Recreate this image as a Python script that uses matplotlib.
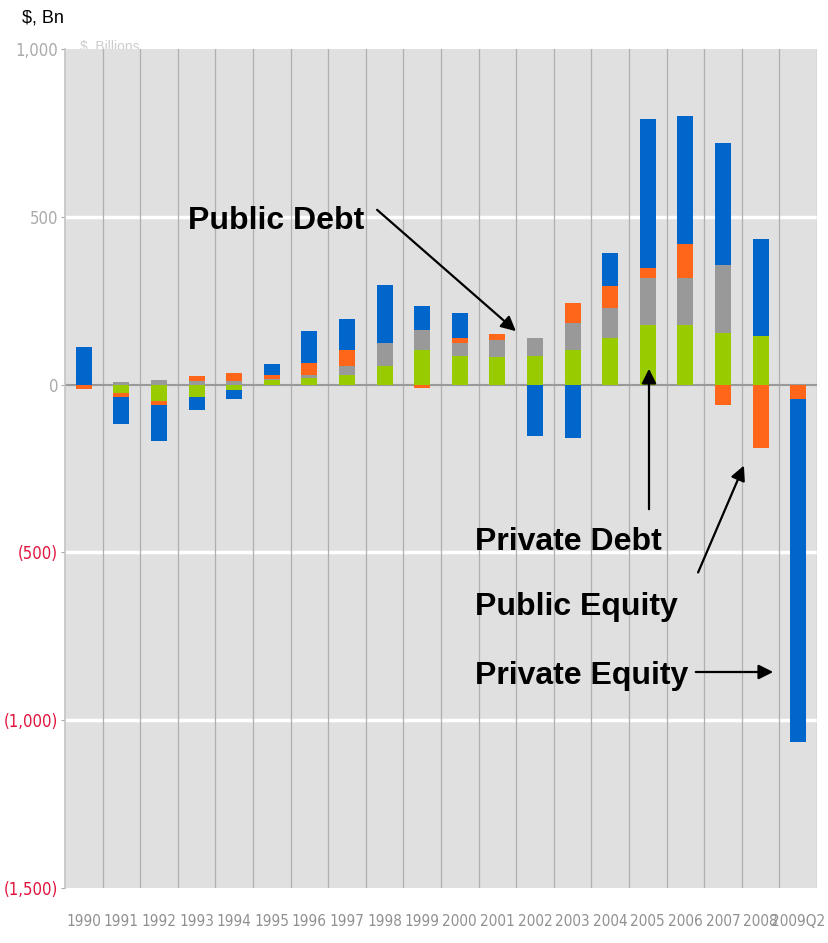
import matplotlib
matplotlib.use('Agg')
import matplotlib.pyplot as plt
import numpy as np

years = ['1990', '1991', '1992', '1993', '1994', '1995', '1996', '1997', '1998', '1999',
         '2000', '2001', '2002', '2003', '2004', '2005', '2006', '2007', '2008', '2009Q2']

# $ Bn flows per year, by asset class
private_debt   = [0, -25, -50, -37, -15, 15, 20, 30, 54, 104, 86, 82, 86, 104, 139, 178, 178, 155, 146, 0]
public_debt    = [0, 7, 15, 10, 10, 3, 10, 25, 70, 59, 38, 51, 52, 81, 89, 139, 139, 201, 0, 0]
public_equity  = [-12, -12, -10, 15, 25, 12, 35, 48, 0, -10, 15, 18, 0, 58, 67, 30, 102, -62, -188, -42]
private_equity = [113, -79, -109, -40, -27, 30, 94, 93, 173, 71, 74, 0, -154, -158, 96, 443, 380, 364, 289, -1024]

series = [private_debt, public_debt, public_equity, private_equity]
colors = ['#99cc00', '#999999', '#ff6619', '#0066cc']

yticks = [1000, 500, 0, -500, -1000, -1500]
ylabels = ['1,000', '500', '0', '(500)', '(1,000)', '(1,500)']

plt.rcParams['font.family'] = ['Liberation Sans', 'DejaVu Sans']

fig = plt.figure(figsize=(8.29, 9.43), dpi=100)
ax = fig.add_axes([65/829, 1 - 888/943, 752/829, 839/943])
ax.set_facecolor('#e0e0e0')

x = np.arange(len(years))
pos_base = np.zeros(len(years))
neg_base = np.zeros(len(years))
for vals, c in zip(series, colors):
    v = np.array(vals, dtype=float)
    base = np.where(v >= 0, pos_base, neg_base)
    ax.bar(x, v, bottom=base, width=0.43, color=c, zorder=3)
    pos_base += np.clip(v, 0, None)
    neg_base += np.clip(v, None, 0)

ax.set_xlim(-0.5, len(years) - 0.5)
ax.set_ylim(-1500, 1000)

# white grid at the +/-500 steps, grey line at zero, dividers between years
for g in [500, -500, -1000]:
    ax.axhline(g, color='white', lw=2.5, zorder=1)
ax.axhline(0, color='#999999', lw=1.5, zorder=2)
for b in np.arange(0.5, len(years), 1):
    ax.axvline(b, color='#b0b0b0', lw=0.9, zorder=1)

for s in ['top', 'right', 'bottom']:
    ax.spines[s].set_visible(False)
ax.spines['left'].set_color('#c4c4c4')
ax.spines['left'].set_linewidth(1.2)

ax.set_yticks(yticks)
ax.set_yticklabels(ylabels, family='DejaVu Sans', fontstretch='condensed', fontsize=12)
for lab, val in zip(ax.get_yticklabels(), yticks):
    lab.set_color('#aaaaaa' if val >= 0 else '#e0143c')
ax.tick_params(axis='y', length=3, color='#aaaaaa', pad=2)

ax.set_xticks(x)
ax.set_xticklabels(years, family='DejaVu Sans', fontstretch='condensed', fontsize=11,
                   color='#909090')
ax.tick_params(axis='x', length=0, pad=19)

fig.text(22/829, 1 - 18/943, '$, Bn', fontsize=13, va='center', ha='left')
# axis caption that sits mostly behind the plot area
fig.text(80/829, 1 - 47/943, '$, Billions', fontsize=10, color='#cccccc',
         va='center', ha='left', zorder=-1)

label_kw = dict(fontsize=23, fontweight='bold', color='black', va='center', ha='left')
arrow_kw = dict(arrowstyle='-|>', color='black', lw=1.6, mutation_scale=22)

def px(xp, yp):
    return (xp / 829, 1 - yp / 943)

fig.text(*px(188, 221), 'Public Debt', **label_kw)
fig.text(*px(475, 542), 'Private Debt', **label_kw)
fig.text(*px(475, 607), 'Public Equity', **label_kw)
fig.text(*px(475, 676), 'Private Equity', **label_kw)

for start, end in [((375, 208), (518, 333)),
                   ((649, 512), (649, 366)),
                   ((697, 575), (745, 463)),
                   ((693, 672), (776, 672))]:
    ax.annotate('', xy=px(*end), xytext=px(*start), xycoords='figure fraction',
                textcoords='figure fraction', arrowprops=arrow_kw, annotation_clip=False)

fig.savefig('out.png', dpi=100)
